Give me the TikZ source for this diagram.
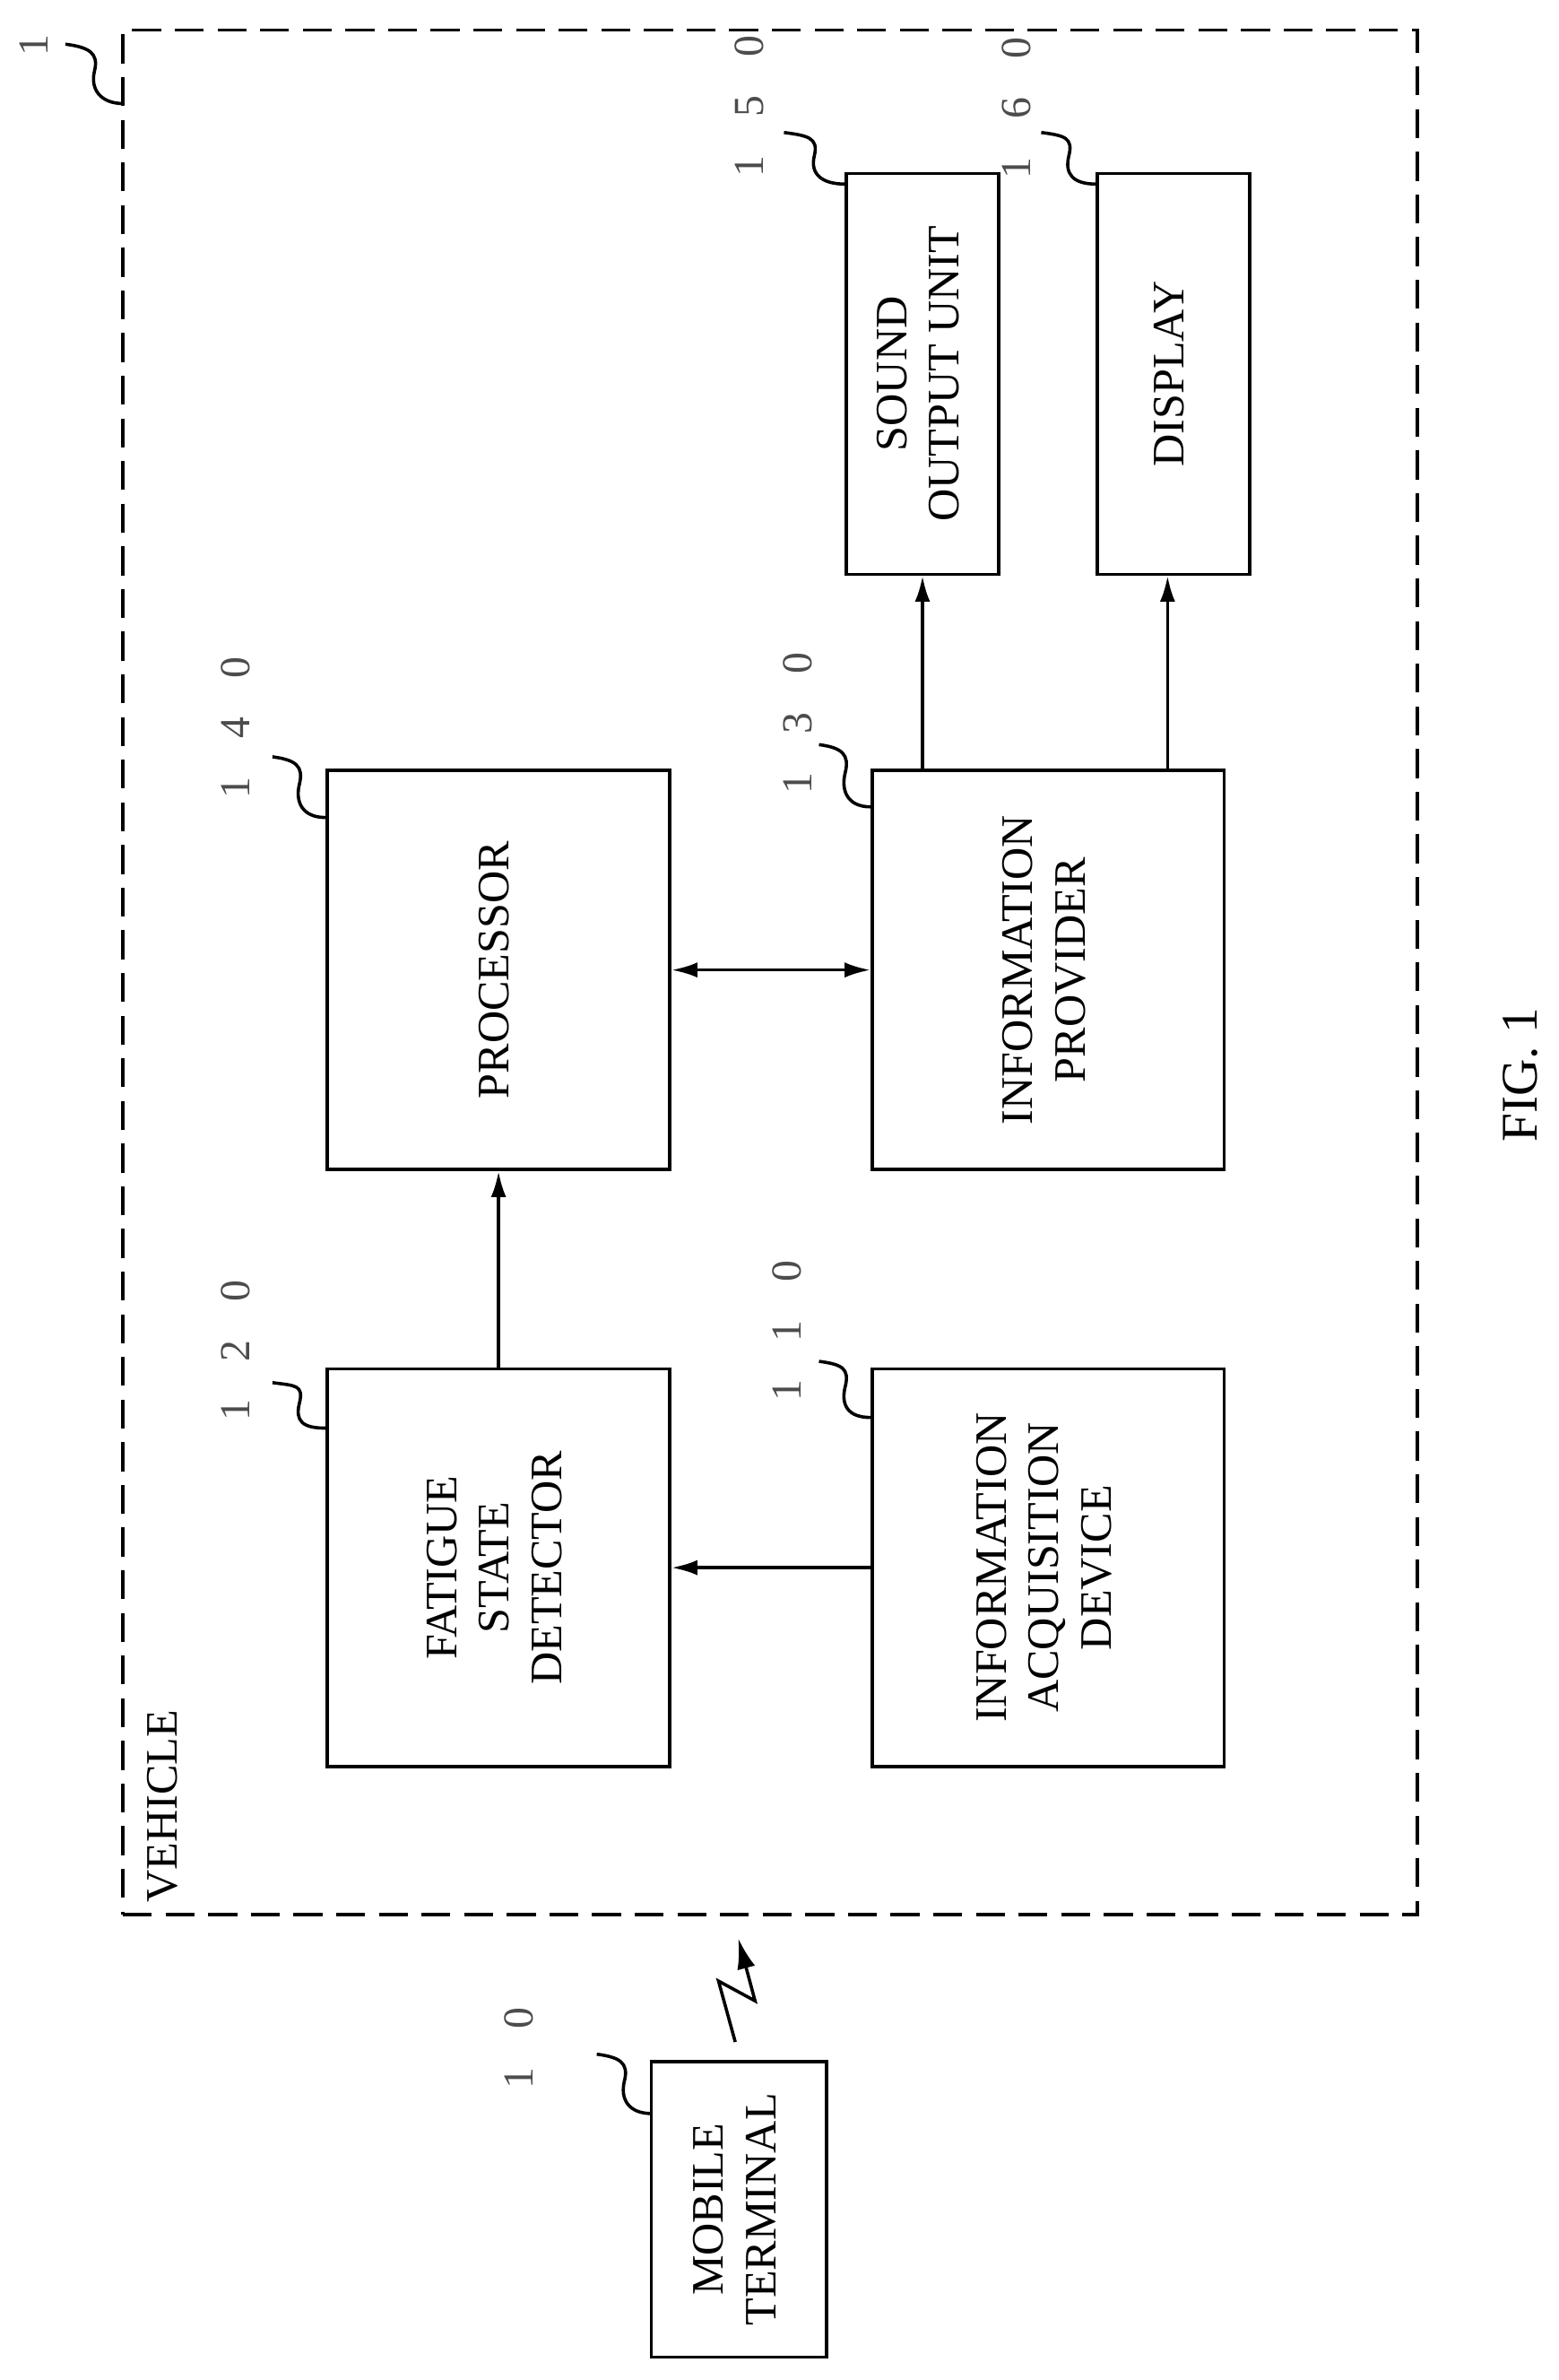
\documentclass[tikz,border=0pt]{standalone}
\usepackage{fontspec}
\setmainfont{Liberation Serif}
\usetikzlibrary{arrows.meta,calc}
\begin{document}
\begin{tikzpicture}[x=0.01cm,y=-0.01cm,
  box/.style={draw,line width=0.6pt,inner sep=0pt,font=\fontsize{8.4}{9.8}\selectfont},
  arr/.style={line width=0.6pt,-{Latex[length=0.17cm,width=0.1cm]}},
  darr/.style={line width=0.6pt,{Latex[length=0.17cm,width=0.1cm]}-{Latex[length=0.17cm,width=0.1cm]}},
  lbl/.style={rotate=90,text=black!70,font=\fontsize{8}{9}\selectfont,inner sep=0pt},
  sq/.style={line width=0.6pt}]
\useasboundingbox (0,0) rectangle (1024,1563);
\newcommand{\rt}[1]{\rotatebox{90}{\begin{tabular}{@{}c@{}}#1\end{tabular}}}
\newcommand{\squig}[2]{\draw[sq] (#1) .. controls +(15,2) and +(3,-12) .. ($(#1)!0.45!(#2)+(2,0)$) .. controls +(-3,12) and +(-15,0) .. (#2);}
% vehicle frame
\node (veh) [draw,line width=0.6pt,dash pattern=on 0.19cm off 0.09cm,minimum width=8.5cm,minimum height=12.37cm,inner sep=0pt] at (506,638.5) {};
\node [rotate=90,anchor=west,font=\fontsize{8.4}{9.8}\selectfont,inner sep=0pt] (vehtxt) at (107,1250) {VEHICLE};
% boxes
\node (fat) [box,minimum width=2.25cm,minimum height=2.61cm] at (327.5,1029.5) {\rt{FATIGUE\\STATE\\DETECTOR}};
\node (acq) [box,minimum width=2.31cm,minimum height=2.61cm] at (688.5,1029.5) {\rt{INFORMATION\\ACQUISITION\\DEVICE}};
\node (proc) [box,minimum width=2.25cm,minimum height=2.62cm] at (327.5,637) {\rt{PROCESSOR}};
\node (prov) [box,minimum width=2.31cm,minimum height=2.62cm] at (688.5,637) {\rt{INFORMATION\\PROVIDER}};
\node (snd) [box,minimum width=1.0cm,minimum height=2.63cm] at (606,245.5) {\rt{SOUND\\OUTPUT UNIT}};
\node (disp) [box,minimum width=1.0cm,minimum height=2.63cm] at (771,245.5) {\rt{DISPLAY}};
\node (mob) [box,minimum width=1.15cm,minimum height=1.94cm] at (485.5,1451) {\rt{MOBILE\\TERMINAL}};
% arrows
\draw[arr] (acq.west) -- (fat.east);
\draw[arr] (fat.north) -- (proc.south);
\draw[darr] (proc.east) -- (prov.west);
\draw[arr] (prov.north -| snd.south) -- (snd.south);
\draw[arr] (prov.north -| 767,0) -- (disp.south -| 767,0);
% wireless
\coordinate (w1) at (483,1341);
\coordinate (w2) at (472,1301);
\coordinate (w3) at (496,1314);
\coordinate (w4) at (485,1273);
\draw[line width=0.6pt,-{Latex[length=0.2cm,width=0.12cm]}] (w1) -- (w2) -- (w3) -- (w4);
% labels
\node[lbl] (l1) at (22,30) {1};
\coordinate (s1) at (43,29); \coordinate (e1) at (81,68);
\squig{s1}{e1}
\node[lbl] (l10) at (341,1345) {1\hspace{0.9em}0};
\coordinate (s10) at (392,1349); \coordinate (e10) at (428,1388);
\squig{s10}{e10}
\node[lbl] (l120) at (155,887) {1\hspace{0.9em}2\hspace{0.9em}0};
\coordinate (s120) at (179,908); \coordinate (e120) at ($(fat.north west)+(0,40)$);
\squig{s120}{e120}
\node[lbl] (l110) at (517,874) {1\hspace{0.9em}1\hspace{0.9em}0};
\coordinate (s110) at (538,894); \coordinate (e110) at ($(acq.north west)+(0,33)$);
\squig{s110}{e110}
\node[lbl] (l140) at (155,478) {1\hspace{0.9em}4\hspace{0.9em}0};
\coordinate (s140) at (179,497); \coordinate (e140) at ($(proc.north west)+(0,32)$);
\squig{s140}{e140}
\node[lbl] (l130) at (524,475) {1\hspace{0.9em}3\hspace{0.9em}0};
\coordinate (s130) at (538,489); \coordinate (e130) at ($(prov.north west)+(0,25)$);
\squig{s130}{e130}
\node[lbl] (l150) at (492,70) {1\hspace{0.9em}5\hspace{0.9em}0};
\coordinate (s150) at (515,87); \coordinate (e150) at ($(snd.north west)+(0,8)$);
\squig{s150}{e150}
\node[lbl] (l160) at (668,71) {1\hspace{0.9em}6\hspace{0.9em}0};
\coordinate (s160) at (684,87); \coordinate (e160) at ($(disp.north west)+(0,8)$);
\squig{s160}{e160}
\node[rotate=90,font=\fontsize{9.6}{11}\selectfont,inner sep=0pt] (fig) at (999,706) {FIG. 1};
\end{tikzpicture}
\end{document}
